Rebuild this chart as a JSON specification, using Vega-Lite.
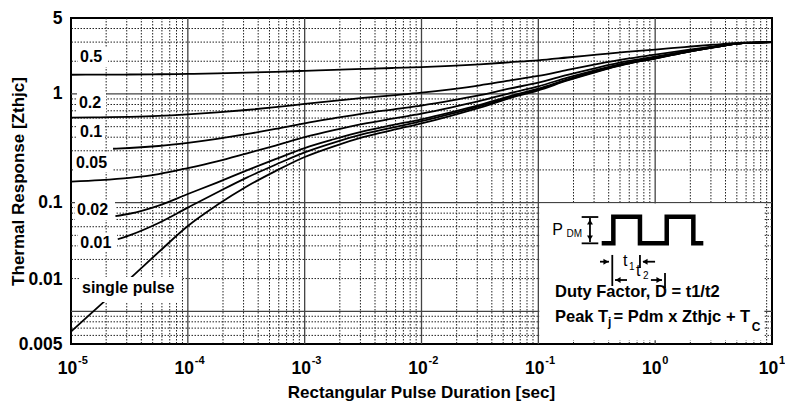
{
  "$schema": "https://vega.github.io/schema/vega-lite/v6.json",
  "width": 701,
  "height": 326,
  "autosize": {"type": "none"},
  "padding": {"left": 71, "top": 18, "right": 13, "bottom": 63},
  "background": "white",
  "config": {"font": "Liberation Sans", "view": {"stroke": "#000", "strokeWidth": 2}},
  "resolve": {"axis": {"x": "independent", "y": "independent"}},
  "datasets": {
    "minx": [
      {"v": 2e-5}, {"v": 3e-5}, {"v": 4e-5}, {"v": 5e-5}, {"v": 6e-5}, {"v": 7e-5}, {"v": 8e-5}, {"v": 9e-5},
      {"v": 2e-4}, {"v": 3e-4}, {"v": 4e-4}, {"v": 5e-4}, {"v": 6e-4}, {"v": 7e-4}, {"v": 8e-4}, {"v": 9e-4},
      {"v": 2e-3}, {"v": 3e-3}, {"v": 4e-3}, {"v": 5e-3}, {"v": 6e-3}, {"v": 7e-3}, {"v": 8e-3}, {"v": 9e-3},
      {"v": 0.02}, {"v": 0.03}, {"v": 0.04}, {"v": 0.05}, {"v": 0.06}, {"v": 0.07}, {"v": 0.08}, {"v": 0.09},
      {"v": 0.2}, {"v": 0.3}, {"v": 0.4}, {"v": 0.5}, {"v": 0.6}, {"v": 0.7}, {"v": 0.8}, {"v": 0.9},
      {"v": 2}, {"v": 3}, {"v": 4}, {"v": 5}, {"v": 6}, {"v": 7}, {"v": 8}, {"v": 9}
    ],
    "miny": [
      {"v": 0.006}, {"v": 0.007}, {"v": 0.008}, {"v": 0.009},
      {"v": 0.02}, {"v": 0.03}, {"v": 0.04}, {"v": 0.05}, {"v": 0.06}, {"v": 0.07}, {"v": 0.08}, {"v": 0.09},
      {"v": 0.2}, {"v": 0.3}, {"v": 0.4}, {"v": 0.5}, {"v": 0.6}, {"v": 0.7}, {"v": 0.8}, {"v": 0.9},
      {"v": 2}, {"v": 3}, {"v": 4}
    ],
    "majx": [{"v": 1e-4}, {"v": 1e-3}, {"v": 1e-2}, {"v": 0.1}, {"v": 1}],
    "majy": [{"v": 0.01}, {"v": 0.1}, {"v": 1}],
    "curves": [
      {"d": "0.5", "t": 1e-5, "z": 1.503}, {"d": "0.5", "t": 1.778e-5, "z": 1.506}, {"d": "0.5", "t": 3.162e-5, "z": 1.51}, {"d": "0.5", "t": 5.623e-5, "z": 1.518},
      {"d": "0.5", "t": 1e-4, "z": 1.53}, {"d": "0.5", "t": 1.778e-4, "z": 1.548}, {"d": "0.5", "t": 3.162e-4, "z": 1.57}, {"d": "0.5", "t": 5.623e-4, "z": 1.598},
      {"d": "0.5", "t": 1e-3, "z": 1.632}, {"d": "0.5", "t": 1.778e-3, "z": 1.665}, {"d": "0.5", "t": 3.162e-3, "z": 1.7}, {"d": "0.5", "t": 5.623e-3, "z": 1.733},
      {"d": "0.5", "t": 0.01, "z": 1.768}, {"d": "0.5", "t": 0.01778, "z": 1.815}, {"d": "0.5", "t": 0.03162, "z": 1.875}, {"d": "0.5", "t": 0.05623, "z": 1.955},
      {"d": "0.5", "t": 0.1, "z": 2.04}, {"d": "0.5", "t": 0.1778, "z": 2.165}, {"d": "0.5", "t": 0.3162, "z": 2.3}, {"d": "0.5", "t": 0.5623, "z": 2.44},
      {"d": "0.5", "t": 1, "z": 2.56}, {"d": "0.5", "t": 1.778, "z": 2.7}, {"d": "0.5", "t": 3.162, "z": 2.84}, {"d": "0.5", "t": 5.623, "z": 2.96}, {"d": "0.5", "t": 10, "z": 3.0},

      {"d": "0.2", "t": 1e-5, "z": 0.605}, {"d": "0.2", "t": 1.778e-5, "z": 0.609}, {"d": "0.2", "t": 3.162e-5, "z": 0.616}, {"d": "0.2", "t": 5.623e-5, "z": 0.628},
      {"d": "0.2", "t": 1e-4, "z": 0.649}, {"d": "0.2", "t": 1.778e-4, "z": 0.676}, {"d": "0.2", "t": 3.162e-4, "z": 0.712}, {"d": "0.2", "t": 5.623e-4, "z": 0.756},
      {"d": "0.2", "t": 1e-3, "z": 0.81}, {"d": "0.2", "t": 1.778e-3, "z": 0.864}, {"d": "0.2", "t": 3.162e-3, "z": 0.92}, {"d": "0.2", "t": 5.623e-3, "z": 0.972},
      {"d": "0.2", "t": 0.01, "z": 1.029}, {"d": "0.2", "t": 0.01778, "z": 1.104}, {"d": "0.2", "t": 0.03162, "z": 1.2}, {"d": "0.2", "t": 0.05623, "z": 1.328},
      {"d": "0.2", "t": 0.1, "z": 1.464}, {"d": "0.2", "t": 0.1778, "z": 1.664}, {"d": "0.2", "t": 0.3162, "z": 1.88}, {"d": "0.2", "t": 0.5623, "z": 2.1},
      {"d": "0.2", "t": 1, "z": 2.3}, {"d": "0.2", "t": 1.778, "z": 2.52}, {"d": "0.2", "t": 3.162, "z": 2.74}, {"d": "0.2", "t": 5.623, "z": 2.94}, {"d": "0.2", "t": 10, "z": 3.0},

      {"d": "0.1", "t": 2.291e-5, "z": 0.313}, {"d": "0.1", "t": 3.162e-5, "z": 0.318}, {"d": "0.1", "t": 5.623e-5, "z": 0.332},
      {"d": "0.1", "t": 1e-4, "z": 0.355}, {"d": "0.1", "t": 1.778e-4, "z": 0.386}, {"d": "0.1", "t": 3.162e-4, "z": 0.426}, {"d": "0.1", "t": 5.623e-4, "z": 0.476},
      {"d": "0.1", "t": 1e-3, "z": 0.537}, {"d": "0.1", "t": 1.778e-3, "z": 0.597}, {"d": "0.1", "t": 3.162e-3, "z": 0.66}, {"d": "0.1", "t": 5.623e-3, "z": 0.719},
      {"d": "0.1", "t": 0.01, "z": 0.782}, {"d": "0.1", "t": 0.01778, "z": 0.867}, {"d": "0.1", "t": 0.03162, "z": 0.975}, {"d": "0.1", "t": 0.05623, "z": 1.119},
      {"d": "0.1", "t": 0.1, "z": 1.272}, {"d": "0.1", "t": 0.1778, "z": 1.497}, {"d": "0.1", "t": 0.3162, "z": 1.74}, {"d": "0.1", "t": 0.5623, "z": 1.992},
      {"d": "0.1", "t": 1, "z": 2.208}, {"d": "0.1", "t": 1.778, "z": 2.46}, {"d": "0.1", "t": 3.162, "z": 2.712}, {"d": "0.1", "t": 5.623, "z": 2.93}, {"d": "0.1", "t": 10, "z": 3.0},

      {"d": "0.05", "t": 1e-5, "z": 0.156}, {"d": "0.05", "t": 1.778e-5, "z": 0.161}, {"d": "0.05", "t": 3.162e-5, "z": 0.169}, {"d": "0.05", "t": 5.623e-5, "z": 0.183},
      {"d": "0.05", "t": 1e-4, "z": 0.208}, {"d": "0.05", "t": 1.778e-4, "z": 0.24}, {"d": "0.05", "t": 3.162e-4, "z": 0.283}, {"d": "0.05", "t": 5.623e-4, "z": 0.335},
      {"d": "0.05", "t": 1e-3, "z": 0.4}, {"d": "0.05", "t": 1.778e-3, "z": 0.464}, {"d": "0.05", "t": 3.162e-3, "z": 0.53}, {"d": "0.05", "t": 5.623e-3, "z": 0.592},
      {"d": "0.05", "t": 0.01, "z": 0.659}, {"d": "0.05", "t": 0.01778, "z": 0.749}, {"d": "0.05", "t": 0.03162, "z": 0.863}, {"d": "0.05", "t": 0.05623, "z": 1.015},
      {"d": "0.05", "t": 0.1, "z": 1.176}, {"d": "0.05", "t": 0.1778, "z": 1.414}, {"d": "0.05", "t": 0.3162, "z": 1.67}, {"d": "0.05", "t": 0.5623, "z": 1.936},
      {"d": "0.05", "t": 1, "z": 2.164}, {"d": "0.05", "t": 1.778, "z": 2.43}, {"d": "0.05", "t": 3.162, "z": 2.696}, {"d": "0.05", "t": 5.623, "z": 2.93}, {"d": "0.05", "t": 10, "z": 3.0},

      {"d": "0.02", "t": 2.399e-5, "z": 0.075}, {"d": "0.02", "t": 3.162e-5, "z": 0.079}, {"d": "0.02", "t": 5.623e-5, "z": 0.094},
      {"d": "0.02", "t": 1e-4, "z": 0.12}, {"d": "0.02", "t": 1.778e-4, "z": 0.153}, {"d": "0.02", "t": 3.162e-4, "z": 0.197}, {"d": "0.02", "t": 5.623e-4, "z": 0.251},
      {"d": "0.02", "t": 1e-3, "z": 0.318}, {"d": "0.02", "t": 1.778e-3, "z": 0.383}, {"d": "0.02", "t": 3.162e-3, "z": 0.452}, {"d": "0.02", "t": 5.623e-3, "z": 0.516},
      {"d": "0.02", "t": 0.01, "z": 0.585}, {"d": "0.02", "t": 0.01778, "z": 0.677}, {"d": "0.02", "t": 0.03162, "z": 0.795}, {"d": "0.02", "t": 0.05623, "z": 0.952},
      {"d": "0.02", "t": 0.1, "z": 1.118}, {"d": "0.02", "t": 0.1778, "z": 1.363}, {"d": "0.02", "t": 0.3162, "z": 1.628}, {"d": "0.02", "t": 0.5623, "z": 1.902},
      {"d": "0.02", "t": 1, "z": 2.138}, {"d": "0.02", "t": 1.778, "z": 2.41}, {"d": "0.02", "t": 3.162, "z": 2.686}, {"d": "0.02", "t": 5.623, "z": 2.93}, {"d": "0.02", "t": 10, "z": 3.0},

      {"d": "0.01", "t": 2.512e-5, "z": 0.046}, {"d": "0.01", "t": 3.162e-5, "z": 0.05}, {"d": "0.01", "t": 5.623e-5, "z": 0.065},
      {"d": "0.01", "t": 1e-4, "z": 0.09}, {"d": "0.01", "t": 1.778e-4, "z": 0.124}, {"d": "0.01", "t": 3.162e-4, "z": 0.169}, {"d": "0.01", "t": 5.623e-4, "z": 0.223},
      {"d": "0.01", "t": 1e-3, "z": 0.29}, {"d": "0.01", "t": 1.778e-3, "z": 0.357}, {"d": "0.01", "t": 3.162e-3, "z": 0.426}, {"d": "0.01", "t": 5.623e-3, "z": 0.49},
      {"d": "0.01", "t": 0.01, "z": 0.561}, {"d": "0.01", "t": 0.01778, "z": 0.654}, {"d": "0.01", "t": 0.03162, "z": 0.773}, {"d": "0.01", "t": 0.05623, "z": 0.931},
      {"d": "0.01", "t": 0.1, "z": 1.099}, {"d": "0.01", "t": 0.1778, "z": 1.347}, {"d": "0.01", "t": 0.3162, "z": 1.614}, {"d": "0.01", "t": 0.5623, "z": 1.891},
      {"d": "0.01", "t": 1, "z": 2.129}, {"d": "0.01", "t": 1.778, "z": 2.406}, {"d": "0.01", "t": 3.162, "z": 2.683}, {"d": "0.01", "t": 5.623, "z": 2.93}, {"d": "0.01", "t": 10, "z": 3.0},

      {"d": "single", "t": 1e-5, "z": 0.0065}, {"d": "single", "t": 1.778e-5, "z": 0.0114}, {"d": "single", "t": 3.162e-5, "z": 0.0198}, {"d": "single", "t": 5.623e-5, "z": 0.035},
      {"d": "single", "t": 1e-4, "z": 0.061}, {"d": "single", "t": 1.778e-4, "z": 0.095}, {"d": "single", "t": 3.162e-4, "z": 0.14}, {"d": "single", "t": 5.623e-4, "z": 0.195},
      {"d": "single", "t": 1e-3, "z": 0.263}, {"d": "single", "t": 1.778e-3, "z": 0.33}, {"d": "single", "t": 3.162e-3, "z": 0.4}, {"d": "single", "t": 5.623e-3, "z": 0.465},
      {"d": "single", "t": 0.01, "z": 0.536}, {"d": "single", "t": 0.01778, "z": 0.63}, {"d": "single", "t": 0.03162, "z": 0.75}, {"d": "single", "t": 0.05623, "z": 0.91},
      {"d": "single", "t": 0.1, "z": 1.08}, {"d": "single", "t": 0.1778, "z": 1.33}, {"d": "single", "t": 0.3162, "z": 1.6}, {"d": "single", "t": 0.5623, "z": 1.88},
      {"d": "single", "t": 1, "z": 2.12}, {"d": "single", "t": 1.778, "z": 2.4}, {"d": "single", "t": 3.162, "z": 2.68}, {"d": "single", "t": 5.623, "z": 2.93}, {"d": "single", "t": 10, "z": 3.0}
    ],
    "bg": [
      {"x1": 1.148e-5, "x2": 2.073e-5, "y1": 2.647, "y2": 1.769},
      {"x1": 1.126e-5, "x2": 1.993e-5, "y1": 1.042, "y2": 0.6676},
      {"x1": 1.126e-5, "x2": 1.954e-5, "y1": 0.5516, "y2": 0.3688},
      {"x1": 1.061e-5, "x2": 2.244e-5, "y1": 0.286, "y2": 0.1912},
      {"x1": 1.082e-5, "x2": 2.381e-5, "y1": 0.1056, "y2": 0.0692},
      {"x1": 1.148e-5, "x2": 2.476e-5, "y1": 0.0525, "y2": 0.0351},
      {"x1": 1.171e-5, "x2": 8.739e-5, "y1": 0.02067, "y2": 0.01217},
      {"x1": 0.102, "x2": 8.6, "y1": 0.098, "y2": 0.0054}
    ],
    "labels": [
      {"t": 1.194e-5, "z": 2.173, "text": "0.5"},
      {"t": 1.17e-5, "z": 0.83, "text": "0.2"},
      {"t": 1.194e-5, "z": 0.449, "text": "0.1"},
      {"t": 1.104e-5, "z": 0.2328, "text": "0.05"},
      {"t": 1.126e-5, "z": 0.0855, "text": "0.02"},
      {"t": 1.2e-5, "z": 0.0428, "text": "0.01"},
      {"t": 1.242e-5, "z": 0.01627, "text": "single pulse"}
    ],
    "itext": [
      {"kind": "bold", "t": 0.1389, "z": 0.01353, "text": "Duty Factor, D = t1/t2"},
      {"kind": "bold", "t": 0.1389, "z": 0.00796, "text": "Peak T"},
      {"kind": "bold", "t": 0.4405, "z": 0.00796, "text": "= Pdm x Zthjc + T"},
      {"kind": "boldsub", "t": 0.3948, "z": 0.00732, "text": "j"},
      {"kind": "boldsub", "t": 6.7, "z": 0.00658, "text": "C"},
      {"kind": "normal", "t": 0.1313, "z": 0.0503, "text": "P"},
      {"kind": "normal", "t": 0.531, "z": 0.02609, "text": "t"},
      {"kind": "normal", "t": 0.685, "z": 0.0209, "text": "t"},
      {"kind": "sub", "t": 0.1742, "z": 0.0482, "text": "DM"},
      {"kind": "sub", "t": 0.597, "z": 0.02398, "text": "1"},
      {"kind": "sub", "t": 0.785, "z": 0.01985, "text": "2"}
    ],
    "irules": [
      {"x1": 0.2767, "x2": 0.2767, "y1": 0.0722, "y2": 0.0434},
      {"x1": 0.2349, "x2": 0.326, "y1": 0.0737, "y2": 0.0737},
      {"x1": 0.2349, "x2": 0.326, "y1": 0.0422, "y2": 0.0422},
      {"x1": 0.4295, "x2": 0.4295, "y1": 0.033, "y2": 0.01708},
      {"x1": 0.741, "x2": 0.741, "y1": 0.033, "y2": 0.025},
      {"x1": 1.214, "x2": 1.214, "y1": 0.0225, "y2": 0.01637},
      {"x1": 0.3373, "x2": 0.4027, "y1": 0.0286, "y2": 0.0286},
      {"x1": 0.787, "x2": 0.998, "y1": 0.0286, "y2": 0.0286},
      {"x1": 0.453, "x2": 0.574, "y1": 0.0194, "y2": 0.0194},
      {"x1": 0.92, "x2": 1.144, "y1": 0.0194, "y2": 0.0194}
    ],
    "heads": [
      {"dir": "right", "t": 0.3793, "z": 0.0286},
      {"dir": "left", "t": 0.8185, "z": 0.0286},
      {"dir": "left", "t": 0.481, "z": 0.0194},
      {"dir": "right", "t": 1.079, "z": 0.0194},
      {"dir": "up", "t": 0.2767, "z": 0.0663},
      {"dir": "down", "t": 0.2767, "z": 0.0472}
    ],
    "pulse": [
      {"i": 0, "t": 0.3486, "z": 0.0422}, {"i": 1, "t": 0.4385, "z": 0.0422}, {"i": 2, "t": 0.4385, "z": 0.0742},
      {"i": 3, "t": 0.741, "z": 0.0742}, {"i": 4, "t": 0.741, "z": 0.0422}, {"i": 5, "t": 1.256, "z": 0.0422},
      {"i": 6, "t": 1.256, "z": 0.0742}, {"i": 7, "t": 2.122, "z": 0.0742}, {"i": 8, "t": 2.122, "z": 0.0422},
      {"i": 9, "t": 2.583, "z": 0.0422}
    ]
  },
  "layer": [
    {
      "data": {"name": "minx"},
      "mark": {"type": "rule", "stroke": "#222", "strokeWidth": 1, "strokeDash": [1.5, 1.5]},
      "encoding": {
        "x": {"field": "v", "type": "quantitative",
          "scale": {"type": "log", "domain": [0.00001, 10], "nice": false},
          "axis": {"orient": "bottom", "values": [0.00001, 0.0001, 0.001, 0.01, 0.1, 1, 10],
            "labelExpr": "'10'", "labelFontSize": 17.5, "labelFontWeight": "bold", "labelColor": "#000",
            "labelAlign": "center", "labelOffset": -4, "labelBaseline": "top", "labelPadding": 15,
            "labelFlush": false, "labelOverlap": false, "ticks": false, "tickSize": 0, "domain": false, "grid": false,
            "title": "Rectangular Pulse Duration [sec]", "titleFontSize": 17, "titleFontWeight": "bold", "titleColor": "#000",
            "titleX": 350, "titleY": 48, "titleBaseline": "middle", "titleAlign": "center"}
        }
      }
    },
    {
      "data": {"name": "miny"},
      "mark": {"type": "rule", "stroke": "#222", "strokeWidth": 1, "strokeDash": [1.5, 1.5]},
      "encoding": {
        "y": {"field": "v", "type": "quantitative",
          "scale": {"type": "log", "domain": [0.005, 5], "nice": false},
          "axis": {"orient": "left", "values": [0.005, 0.0195, 0.1, 1, 5],
            "labelExpr": "datum.value > 0.015 && datum.value < 0.03 ? '0.01' : '' + datum.value",
            "labelFontSize": 17.5, "labelFontWeight": "bold", "labelColor": "#000", "labelPadding": 9,
            "labelBaseline": "middle", "labelFlush": false, "labelOverlap": false,
            "ticks": false, "tickSize": 0, "domain": false, "grid": false,
            "title": "Thermal Response [Zthjc]", "titleFontSize": 17, "titleFontWeight": "bold", "titleColor": "#000",
            "titleX": -53, "titleY": 163, "titleAngle": 270, "titleBaseline": "middle", "titleAlign": "center"}
        }
      }
    },
    {
      "data": {"name": "majx"},
      "mark": {"type": "rule", "stroke": "#444", "strokeWidth": 1.3},
      "encoding": {
        "x": {"field": "v", "type": "quantitative",
          "scale": {"type": "log", "domain": [0.00001, 10], "nice": false},
          "axis": {"orient": "bottom", "values": [0.00001, 0.0001, 0.001, 0.01, 0.1, 1, 10],
            "labelExpr": "'' + round(log(datum.value) / LN10)", "labelFontSize": 11, "labelFontWeight": "bold", "labelColor": "#000",
            "labelAlign": "left", "labelOffset": 6.5, "labelBaseline": "top", "labelPadding": 10,
            "labelFlush": false, "labelOverlap": false, "ticks": false, "tickSize": 0, "domain": false, "grid": false, "title": null}
        }
      }
    },
    {
      "data": {"name": "majy"},
      "mark": {"type": "rule", "stroke": "#444", "strokeWidth": 1.3},
      "encoding": {
        "y": {"field": "v", "type": "quantitative", "scale": {"type": "log", "domain": [0.005, 5], "nice": false}, "axis": null}
      }
    },
    {
      "data": {"name": "curves"},
      "mark": {"type": "line", "stroke": "#000", "strokeWidth": 1.8, "interpolate": "monotone"},
      "encoding": {
        "x": {"field": "t", "type": "quantitative", "scale": {"type": "log", "domain": [0.00001, 10], "nice": false}, "axis": null},
        "y": {"field": "z", "type": "quantitative", "scale": {"type": "log", "domain": [0.005, 5], "nice": false}, "axis": null},
        "detail": {"field": "d", "type": "nominal"}
      }
    },
    {
      "data": {"name": "bg"},
      "mark": {"type": "rect", "fill": "white", "stroke": null},
      "encoding": {
        "x": {"field": "x1", "type": "quantitative", "scale": {"type": "log", "domain": [0.00001, 10], "nice": false}, "axis": null},
        "x2": {"field": "x2"},
        "y": {"field": "y1", "type": "quantitative", "scale": {"type": "log", "domain": [0.005, 5], "nice": false}, "axis": null},
        "y2": {"field": "y2"}
      }
    },
    {
      "data": {"name": "labels"},
      "mark": {"type": "text", "align": "left", "baseline": "middle", "fontSize": 16, "fontWeight": "bold", "color": "#000"},
      "encoding": {
        "x": {"field": "t", "type": "quantitative", "scale": {"type": "log", "domain": [0.00001, 10], "nice": false}, "axis": null},
        "y": {"field": "z", "type": "quantitative", "scale": {"type": "log", "domain": [0.005, 5], "nice": false}, "axis": null},
        "text": {"field": "text"}
      }
    },
    {
      "data": {"name": "pulse"},
      "mark": {"type": "line", "stroke": "#000", "strokeWidth": 4.5, "strokeJoin": "miter", "strokeCap": "butt"},
      "encoding": {
        "x": {"field": "t", "type": "quantitative", "scale": {"type": "log", "domain": [0.00001, 10], "nice": false}, "axis": null},
        "y": {"field": "z", "type": "quantitative", "scale": {"type": "log", "domain": [0.005, 5], "nice": false}, "axis": null},
        "order": {"field": "i", "type": "quantitative"}
      }
    },
    {
      "data": {"name": "irules"},
      "mark": {"type": "rule", "stroke": "#000", "strokeWidth": 1.8},
      "encoding": {
        "x": {"field": "x1", "type": "quantitative", "scale": {"type": "log", "domain": [0.00001, 10], "nice": false}, "axis": null},
        "x2": {"field": "x2"},
        "y": {"field": "y1", "type": "quantitative", "scale": {"type": "log", "domain": [0.005, 5], "nice": false}, "axis": null},
        "y2": {"field": "y2"}
      }
    },
    {
      "data": {"name": "heads"},
      "transform": [{"filter": "datum.dir == 'right'"}],
      "mark": {"type": "point", "shape": "triangle-right", "filled": true, "color": "#000", "size": 35, "opacity": 1},
      "encoding": {
        "x": {"field": "t", "type": "quantitative", "scale": {"type": "log", "domain": [0.00001, 10], "nice": false}, "axis": null},
        "y": {"field": "z", "type": "quantitative", "scale": {"type": "log", "domain": [0.005, 5], "nice": false}, "axis": null}
      }
    },
    {
      "data": {"name": "heads"},
      "transform": [{"filter": "datum.dir == 'left'"}],
      "mark": {"type": "point", "shape": "triangle-left", "filled": true, "color": "#000", "size": 35, "opacity": 1},
      "encoding": {
        "x": {"field": "t", "type": "quantitative", "scale": {"type": "log", "domain": [0.00001, 10], "nice": false}, "axis": null},
        "y": {"field": "z", "type": "quantitative", "scale": {"type": "log", "domain": [0.005, 5], "nice": false}, "axis": null}
      }
    },
    {
      "data": {"name": "heads"},
      "transform": [{"filter": "datum.dir == 'up'"}],
      "mark": {"type": "point", "shape": "triangle-up", "filled": true, "color": "#000", "size": 35, "opacity": 1},
      "encoding": {
        "x": {"field": "t", "type": "quantitative", "scale": {"type": "log", "domain": [0.00001, 10], "nice": false}, "axis": null},
        "y": {"field": "z", "type": "quantitative", "scale": {"type": "log", "domain": [0.005, 5], "nice": false}, "axis": null}
      }
    },
    {
      "data": {"name": "heads"},
      "transform": [{"filter": "datum.dir == 'down'"}],
      "mark": {"type": "point", "shape": "triangle-down", "filled": true, "color": "#000", "size": 35, "opacity": 1},
      "encoding": {
        "x": {"field": "t", "type": "quantitative", "scale": {"type": "log", "domain": [0.00001, 10], "nice": false}, "axis": null},
        "y": {"field": "z", "type": "quantitative", "scale": {"type": "log", "domain": [0.005, 5], "nice": false}, "axis": null}
      }
    },
    {
      "data": {"name": "itext"},
      "transform": [{"filter": "datum.kind == 'bold'"}],
      "mark": {"type": "text", "align": "left", "baseline": "alphabetic", "fontSize": 16.5, "fontWeight": "bold", "color": "#000"},
      "encoding": {
        "x": {"field": "t", "type": "quantitative", "scale": {"type": "log", "domain": [0.00001, 10], "nice": false}, "axis": null},
        "y": {"field": "z", "type": "quantitative", "scale": {"type": "log", "domain": [0.005, 5], "nice": false}, "axis": null},
        "text": {"field": "text"}
      }
    },
    {
      "data": {"name": "itext"},
      "transform": [{"filter": "datum.kind == 'boldsub'"}],
      "mark": {"type": "text", "align": "left", "baseline": "alphabetic", "fontSize": 12, "fontWeight": "bold", "color": "#000"},
      "encoding": {
        "x": {"field": "t", "type": "quantitative", "scale": {"type": "log", "domain": [0.00001, 10], "nice": false}, "axis": null},
        "y": {"field": "z", "type": "quantitative", "scale": {"type": "log", "domain": [0.005, 5], "nice": false}, "axis": null},
        "text": {"field": "text"}
      }
    },
    {
      "data": {"name": "itext"},
      "transform": [{"filter": "datum.kind == 'normal'"}],
      "mark": {"type": "text", "align": "left", "baseline": "alphabetic", "fontSize": 16, "color": "#000"},
      "encoding": {
        "x": {"field": "t", "type": "quantitative", "scale": {"type": "log", "domain": [0.00001, 10], "nice": false}, "axis": null},
        "y": {"field": "z", "type": "quantitative", "scale": {"type": "log", "domain": [0.005, 5], "nice": false}, "axis": null},
        "text": {"field": "text"}
      }
    },
    {
      "data": {"name": "itext"},
      "transform": [{"filter": "datum.kind == 'sub'"}],
      "mark": {"type": "text", "align": "left", "baseline": "alphabetic", "fontSize": 10, "color": "#000"},
      "encoding": {
        "x": {"field": "t", "type": "quantitative", "scale": {"type": "log", "domain": [0.00001, 10], "nice": false}, "axis": null},
        "y": {"field": "z", "type": "quantitative", "scale": {"type": "log", "domain": [0.005, 5], "nice": false}, "axis": null},
        "text": {"field": "text"}
      }
    }
  ]
}
